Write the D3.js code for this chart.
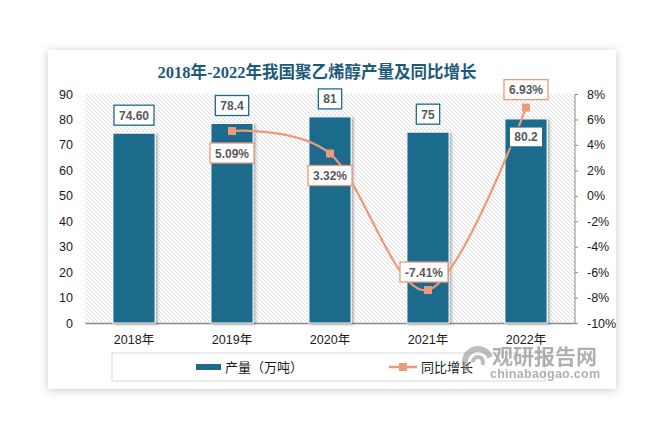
<!DOCTYPE html>
<html>
<head>
<meta charset="utf-8">
<script src="https://cdn.jsdelivr.net/npm/d3@7"></script>
<style>
  body { margin: 0; background: #fff; }
  text { font-family: "Liberation Sans", Arial, "Noto Sans CJK SC", sans-serif; }
</style>
</head>
<body>
<div id="chart"></div>
<script>
// data
var years = ["2018年", "2019年", "2020年", "2021年", "2022年"];
var output = [74.6, 78.4, 81, 75, 80.2];
var outputLabels = ["74.60", "78.4", "81", "75", "80.2"];
var growth = [null, 5.09, 3.32, -7.41, 6.93];
var growthLabels = [null, "5.09%", "3.32%", "-7.41%", "6.93%"];
var leftTicks = [0, 10, 20, 30, 40, 50, 60, 70, 80, 90];
var rightTicks = [-10, -8, -6, -4, -2, 0, 2, 4, 6, 8];
// where each label sits relative to its mark
var outputLabelSide = ["above", "above", "above", "above", "inside"];
var growthLabelSide = [null, "below", "below", "above", "above"];

var W = 665, H = 438;
var plot = {left: 85, right: 575, top: 94, bottom: 323};
var barColor = "#1d6a8c", lineColor = "#eb9a7b";

var svg = d3.select("#chart").append("svg")
    .attr("width", W).attr("height", H);

var defs = svg.append("defs");

var f1 = defs.append("filter").attr("id", "cardShadow")
    .attr("x", "-10%").attr("y", "-10%").attr("width", "120%").attr("height", "120%");
f1.append("feDropShadow").attr("dx", 0).attr("dy", 1).attr("stdDeviation", 5)
    .attr("flood-color", "#000").attr("flood-opacity", 0.22);

var f2 = defs.append("filter").attr("id", "barShadow")
    .attr("x", "-20%").attr("y", "-10%").attr("width", "150%").attr("height", "120%");
f2.append("feDropShadow").attr("dx", 2).attr("dy", 1).attr("stdDeviation", 1.5)
    .attr("flood-color", "#000").attr("flood-opacity", 0.3);

// hatch background
var pat = defs.append("pattern").attr("id", "hatch")
    .attr("patternUnits", "userSpaceOnUse").attr("width", 4).attr("height", 4);
pat.append("path")
    .attr("d", "M0,0L4,4M-1,3L1,5M3,-1L5,1")
    .attr("stroke", "#d4d4d4").attr("stroke-width", 0.8);

// card
svg.append("rect")
    .attr("x", 48).attr("y", 50).attr("width", 568).attr("height", 339)
    .attr("fill", "#fff").attr("filter", "url(#cardShadow)");

// title
svg.append("text")
    .attr("x", 317).attr("y", 78)
    .attr("text-anchor", "middle")
    .style("font-family", "'Liberation Serif', 'Noto Sans CJK SC', serif")
    .style("font-size", "16.5px").style("font-weight", "bold")
    .attr("fill", "#1c5a7a")
    .text("2018年-2022年我国聚乙烯醇产量及同比增长");

// scales
var x = d3.scaleBand().domain(years).range([plot.left, plot.right]).paddingInner(0.57).paddingOuter(0.285);
var yL = d3.scaleLinear().domain([0, 90]).range([plot.bottom, plot.top]);
var yR = d3.scaleLinear().domain([-10, 8]).range([plot.bottom, plot.top]);

svg.append("rect")
    .attr("x", plot.left).attr("y", plot.top)
    .attr("width", plot.right - plot.left).attr("height", plot.bottom - plot.top)
    .attr("fill", "url(#hatch)");

// left axis
var gL = svg.append("g")
    .attr("transform", "translate(" + (plot.left - 12) + ",0)")
    .call(d3.axisLeft(yL).tickValues(leftTicks).tickSize(0).tickPadding(0));
gL.select(".domain").remove();
gL.selectAll("text").style("font-size", "12.5px").attr("fill", "#1a1a1a")
    .style("font-family", "'Liberation Sans', Arial, sans-serif");

// right axis
var gR = svg.append("g")
    .attr("transform", "translate(" + plot.right + ",0)")
    .call(d3.axisRight(yR).tickValues(rightTicks).tickSize(3).tickPadding(9)
        .tickFormat(function(d) { return d + "%"; }));
gR.select(".domain").attr("stroke", "#8c8c8c").attr("d", "M0," + plot.top + "V" + plot.bottom);
gR.selectAll("line").attr("stroke", "#8c8c8c");
gR.selectAll("text").style("font-size", "12.5px").attr("fill", "#1a1a1a")
    .style("font-family", "'Liberation Sans', Arial, sans-serif");

// bottom axis
var gB = svg.append("g")
    .attr("transform", "translate(0," + plot.bottom + ")")
    .call(d3.axisBottom(x).tickSize(0).tickPadding(12));
gB.select(".domain").attr("stroke", "#8c8c8c").attr("stroke-width", 1.3);
gB.selectAll("text").style("font-size", "12.5px").attr("fill", "#1a1a1a")
    .style("font-family", "'Liberation Sans', 'Noto Sans CJK SC', sans-serif");

// bars
svg.append("g").selectAll("rect")
    .data(output)
    .join("rect")
    .attr("x", function(d, i) { return x(years[i]); })
    .attr("y", function(d) { return yL(d); })
    .attr("width", x.bandwidth())
    .attr("height", function(d) { return yL(0) - yL(d); })
    .attr("fill", barColor)
    .attr("stroke", "#fff").attr("stroke-width", 1)
    .attr("filter", "url(#barShadow)");

// growth line
var pts = growth.map(function(d, i) { return {v: d, i: i}; }).filter(function(d) { return d.v !== null; });
var line = d3.line()
    .x(function(d) { return x(years[d.i]) + x.bandwidth() / 2; })
    .y(function(d) { return yR(d.v); })
    .curve(d3.curveCatmullRom.alpha(0));

svg.append("path")
    .datum(pts)
    .attr("d", line)
    .attr("fill", "none")
    .attr("stroke", lineColor).attr("stroke-width", 2.2);

svg.append("g").selectAll("rect")
    .data(pts)
    .join("rect")
    .attr("x", function(d) { return x(years[d.i]) + x.bandwidth() / 2 - 4; })
    .attr("y", function(d) { return yR(d.v) - 4; })
    .attr("width", 8).attr("height", 8)
    .attr("fill", lineColor);

// label boxes
function labelBox(cx, top, txt, border) {
  var g = svg.append("g");
  var rect = g.append("rect").attr("fill", "#fff").attr("stroke", border).attr("stroke-width", 1.3);
  var t = g.append("text")
      .attr("x", cx).attr("y", top + 14.5)
      .attr("text-anchor", "middle")
      .style("font-size", "12px").style("font-weight", "bold")
      .attr("fill", "#595959")
      .text(txt);
  var w = t.node().getComputedTextLength() + 10;
  rect.attr("x", cx - w / 2).attr("y", top).attr("width", w).attr("height", 20);
}

output.forEach(function(d, i) {
  var cx = x(years[i]) + x.bandwidth() / 2;
  var top = outputLabelSide[i] === "inside" ? yL(d) + 8 : yL(d) - 8 - 20;
  labelBox(cx, top, outputLabels[i], "#1d6a8c");
});

growth.forEach(function(d, i) {
  if (d === null) return;
  var cx = x(years[i]) + x.bandwidth() / 2 - (growthLabelSide[i] === "above" && d < 0 ? 4 : 0);
  var top = growthLabelSide[i] === "below" ? yR(d) + 12 : yR(d) - 8 - 20;
  labelBox(cx, top, growthLabels[i], lineColor);
});

// legend
var lg = svg.append("g");
lg.append("rect")
    .attr("x", 112).attr("y", 353).attr("width", 433).attr("height", 28)
    .attr("fill", "#fff").attr("stroke", "#d9d9d9").attr("stroke-width", 1);
lg.append("rect")
    .attr("x", 196).attr("y", 364).attr("width", 25).attr("height", 6)
    .attr("fill", barColor);
lg.append("text")
    .attr("x", 225).attr("y", 372)
    .style("font-size", "13px").attr("fill", "#1a1a1a")
    .style("font-family", "'Noto Sans CJK SC', sans-serif")
    .text("产量（万吨）");
lg.append("line")
    .attr("x1", 389).attr("x2", 417).attr("y1", 367).attr("y2", 367)
    .attr("stroke", lineColor).attr("stroke-width", 2.5);
lg.append("rect")
    .attr("x", 399).attr("y", 363).attr("width", 8).attr("height", 8)
    .attr("fill", lineColor);
lg.append("text")
    .attr("x", 421).attr("y", 372)
    .style("font-size", "13px").attr("fill", "#1a1a1a")
    .style("font-family", "'Noto Sans CJK SC', sans-serif")
    .text("同比增长");

// watermark
var wm = svg.append("g").attr("opacity", 0.55);
wm.append("path")
    .attr("d", d3.arc()({innerRadius: 10, outerRadius: 16, startAngle: -2.2, endAngle: 1.2}))
    .attr("transform", "translate(478,362)").attr("fill", "#8a8a8a");
wm.append("path")
    .attr("d", d3.arc()({innerRadius: 3, outerRadius: 7, startAngle: -1.6, endAngle: 2.2}))
    .attr("transform", "translate(478,362)").attr("fill", "#8a8a8a");
wm.append("text")
    .attr("x", 492).attr("y", 364)
    .style("font-family", "'Noto Sans CJK SC', sans-serif")
    .style("font-size", "21px").style("font-weight", "bold")
    .attr("fill", "#6f6f6f")
    .text("观研报告网");
wm.append("text")
    .attr("x", 490).attr("y", 378)
    .style("font-size", "12.5px").style("font-weight", "bold")
    .attr("fill", "#6f6f6f")
    .attr("textLength", 110)
    .text("chinabaogao.com");
</script>
</body>
</html>
